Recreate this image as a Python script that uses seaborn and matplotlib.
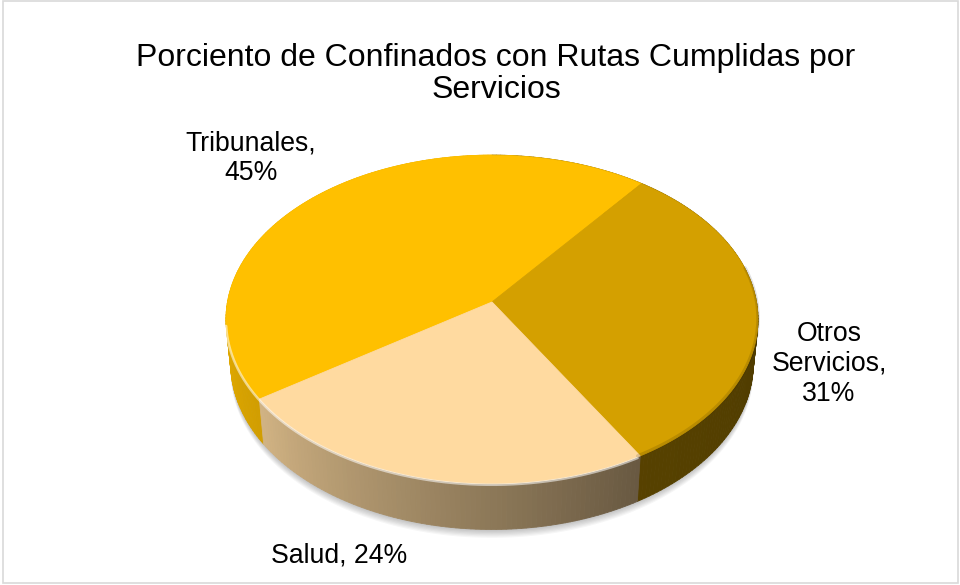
import textwrap
import numpy as np
import pandas as pd
import seaborn as sns
import matplotlib
matplotlib.use("Agg")
import matplotlib.pyplot as plt
from matplotlib.collections import PolyCollection
from matplotlib.patches import Polygon, Rectangle

sns.set_theme(style="white")
plt.rcParams['font.family'] = ['Liberation Sans', 'DejaVu Sans']

# data
categories = ["Tribunales", "Otros Servicios", "Salud"]
values = [45, 31, 24]
title = "Porciento de Confinados con Rutas Cumplidas por\nServicios"

colors = sns.color_palette(["#FFC000", "#D4A000", "#FFDAA0"])
df = pd.DataFrame({"cat": categories, "val": values})

# 3d view of the pie (tilt + a bit of perspective, like excel)
elev = np.radians(37.9)
se, ce = np.sin(elev), np.cos(elev)
D = 7.43          # camera distance
h = 0.215         # thickness
S = 264.5         # pixels per radius
cx, cy = 492, 302
start = 214.2     # slices go clockwise from here

def proj(t_deg, z):
    t = np.radians(t_deg)
    X, Y = np.cos(t), np.sin(t)
    w = D + Y * ce - z * se
    sx = X * D / w
    sy = (Y * se + z * ce) * D / w
    return cx + S * sx, cy - S * sy, w

# side shading vs angle
shade_ang = [180, 215, 270, 300, 360, 400]
shade_val = [0.9, 0.82, 0.55, 0.41, 0.37, 0.37]

def shade(t):
    t = t % 360
    if t < 90:
        t += 360
    return np.interp(t, shade_ang, shade_val)

fig, ax = plt.subplots(figsize=(9.6, 5.85), dpi=100)
fig.subplots_adjust(0, 0, 1, 1)
ax.set_xlim(0, 960)
ax.set_ylim(585, 0)
ax.axis("off")

fracs = df["val"] / df["val"].sum() * 360
bounds = start - np.concatenate([[0], np.cumsum(fracs)])

# soft shadow under the pie
tt = np.linspace(0, 360, 361)
bx, by, _ = proj(tt, -h)
for k in range(1, 8):
    ax.add_patch(Polygon(np.c_[bx, by + k * 1.2], closed=True, fc="#000000",
                         ec="none", alpha=0.035, zorder=1))

# sides
quads, qcol, qdep = [], [], []
for i, row in df.iterrows():
    a0, a1 = bounds[i], bounds[i + 1]
    ang = np.linspace(a0, a1, int(abs(a0 - a1)) + 2)
    tx, ty, tw = proj(ang, 0)
    lx, ly, lw_ = proj(ang, -h)
    for j in range(len(ang) - 1):
        quads.append([(tx[j], ty[j]), (tx[j + 1], ty[j + 1]),
                      (lx[j + 1], ly[j + 1]), (lx[j], ly[j])])
        f = shade((ang[j] + ang[j + 1]) / 2)
        qcol.append(tuple(np.array(colors[i]) * f))
        qdep.append((tw[j] + tw[j + 1]) / 2)
order = np.argsort(qdep)[::-1]
pc = PolyCollection([quads[k] for k in order], facecolors=[qcol[k] for k in order],
                    edgecolors=[qcol[k] for k in order], linewidths=0.6, zorder=2)
ax.add_collection(pc)

# top face
for i, row in df.iterrows():
    a0, a1 = bounds[i], bounds[i + 1]
    ang = np.linspace(a0, a1, int(abs(a0 - a1)) * 2 + 2)
    tx, ty, _ = proj(ang, 0)
    pts = np.vstack([[cx, cy], np.c_[tx, ty]])
    ax.add_patch(Polygon(pts, closed=True, fc=colors[i], ec=colors[i], lw=0.6, zorder=3))

# rim highlight / bevel
ang = np.linspace(188, 300, 200)
tx, ty, _ = proj(ang, 0)
ax.plot(tx, ty + 1.0, color="white", alpha=0.55, lw=1.8, zorder=4, solid_capstyle="round")
ang = np.linspace(300, 372, 120)
tx, ty, _ = proj(ang, 0)
ax.plot(tx, ty - 1.0, color="black", alpha=0.12, lw=2.5, zorder=4)

# labels
label_pos = [(251, 158), (829, 364), (339, 556)]
wraps = [11, 10, 20]
for (lx, ly), c, v, w in zip(label_pos, df["cat"], df["val"], wraps):
    txt = textwrap.fill(f"{c}, {v}%", width=w)
    ax.text(lx, ly, txt, ha="center", va="center", fontsize=19.2,
            color="#000000", linespacing=1.2, zorder=5)

ax.text(496, 74, title, ha="center", va="center", fontsize=23,
        color="#000000", linespacing=1.06, zorder=5)

# chart area border
ax.add_patch(Rectangle((2.5, 0.5), 955, 582.5, fill=False, ec="#D9D9D9", lw=1.2, zorder=6))

fig.savefig("out.png", dpi=100, facecolor="white")
